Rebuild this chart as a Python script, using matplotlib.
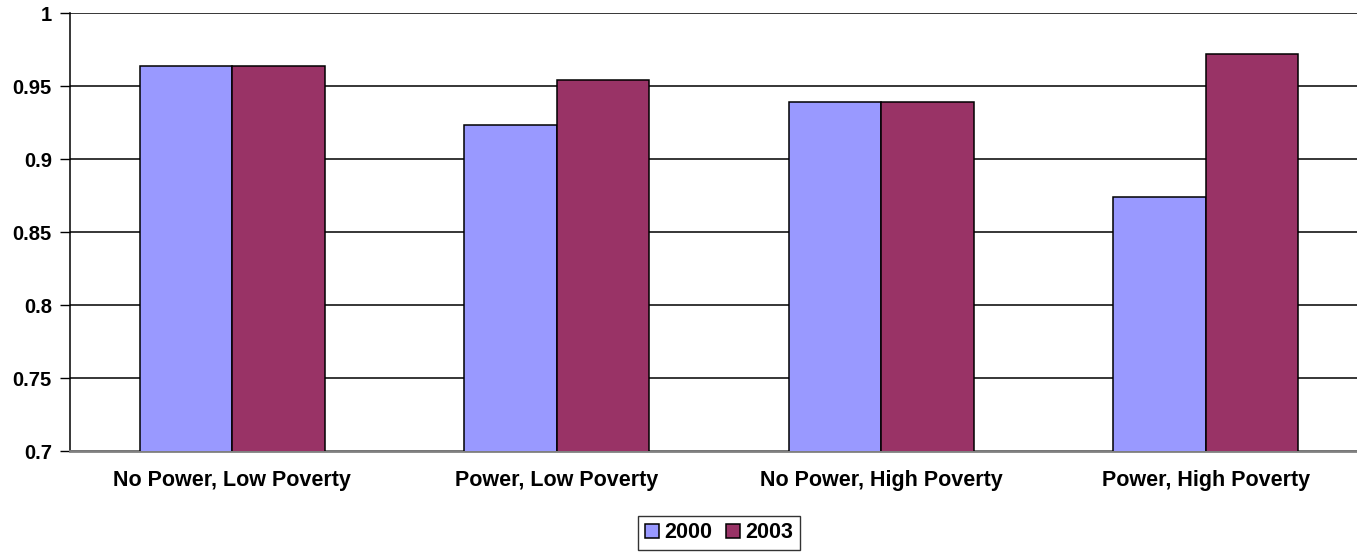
import numpy as np
import matplotlib
matplotlib.use('Agg')
import matplotlib.pyplot as plt

categories = ['No Power, Low Poverty', 'Power, Low Poverty',
              'No Power, High Poverty', 'Power, High Poverty']
y2000 = [0.964, 0.923, 0.939, 0.874]
y2003 = [0.964, 0.954, 0.939, 0.972]
yticks = [0.7, 0.75, 0.8, 0.85, 0.9, 0.95, 1]
yticklabels = ['0.7', '0.75', '0.8', '0.85', '0.9', '0.95', '1']

plt.rcParams['font.family'] = 'Liberation Sans'
plt.rcParams['font.weight'] = 'bold'

W, H = 1357, 553
fig = plt.figure(figsize=(W / 100, H / 100), dpi=100)
# axes run a little past the right edge of the canvas
ax = fig.add_axes([70 / W, 1 - 451 / H, (1368 - 70) / W, (451 - 13) / H])

x = np.arange(len(categories))
w = 0.285
ax.bar(x - w / 2, y2000, w, color='#9999FF', edgecolor='black', linewidth=1.1,
       label='2000', zorder=3)
ax.bar(x + w / 2, y2003, w, color='#993366', edgecolor='black', linewidth=1.1,
       label='2003', zorder=3)

ax.set_xlim(-0.5, len(categories) - 0.5)
ax.set_ylim(0.7, 1.0)
ax.set_yticks(yticks)
ax.set_yticklabels(yticklabels, fontsize=14.5, fontweight='bold')
ax.set_xticks(x)
ax.set_xticklabels(categories, fontsize=15.5, fontweight='bold')
ax.tick_params(axis='x', length=0, pad=14)
ax.tick_params(axis='y', length=7, width=1, pad=6, color='black')

ax.yaxis.grid(True, color='black', linewidth=1.1, zorder=0)
ax.set_axisbelow(True)
ax.spines['top'].set_visible(False)
ax.spines['right'].set_visible(False)
ax.spines['left'].set_color('black')
ax.spines['left'].set_linewidth(1.1)
ax.spines['bottom'].set_color('#808080')
ax.spines['bottom'].set_linewidth(2)

leg = fig.legend(loc='center', bbox_to_anchor=(719 / W, 1 - 533 / H), ncol=2,
                 frameon=True, fancybox=False, edgecolor='black',
                 prop={'size': 15.5, 'weight': 'bold'},
                 handlelength=0.65, handleheight=0.65, handletextpad=0.28,
                 columnspacing=0.6, borderpad=0.3, borderaxespad=0)
leg.get_frame().set_linewidth(1)

fig.savefig('out.png', dpi=100)
